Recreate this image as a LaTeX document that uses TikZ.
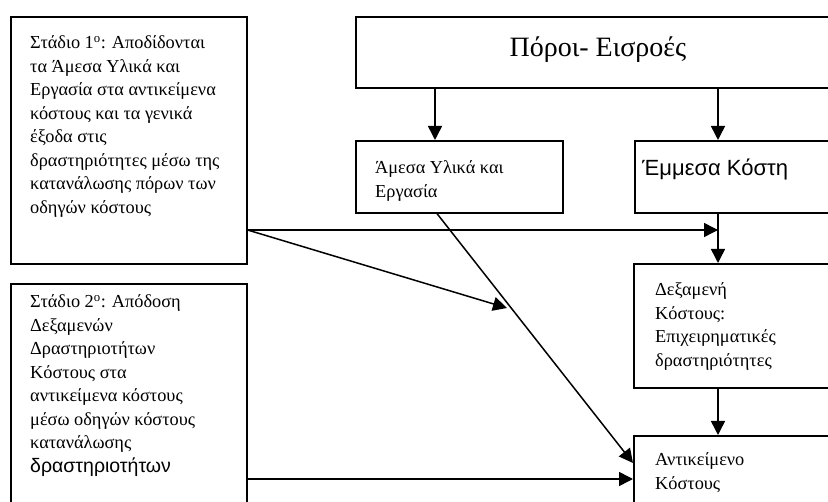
\documentclass[tikz,border=0pt]{standalone}
\usepackage{fontspec}
\setmainfont{Liberation Serif}
\newfontfamily\arialgr{Liberation Sans}
\usetikzlibrary{arrows.meta}

\tikzset{
    box/.style={draw, line width=1.6pt, anchor=north west, inner sep=0pt},
    txt/.style={anchor=north west, inner sep=0pt, align=left, font=\fontsize{18.3}{23.5}\selectfont},
    arr/.style={line width=1.5pt, -{Triangle[length=14pt,width=14pt]}}
}

\begin{document}
\begin{tikzpicture}[x=1pt, y=-1pt]
    \useasboundingbox (0,0) rectangle (828,502);
    \clip (0,0) rectangle (828,502);

% stages
    \node[box, minimum width=236pt, minimum height=247pt] (stage1) at (10,16) {};
    \node[box, minimum width=236pt, minimum height=250pt] (stage2) at (10,283) {};
    \node[txt] (stage1txt) at (30,32) {\strut Στάδιο 1\textsuperscript{ο}: Αποδίδονται\\
        τα Άμεσα Υλικά και\\
        Εργασία στα αντικείμενα\\
        κόστους και τα γενικά\\
        έξοδα στις\\
        δραστηριότητες μέσω της\\
        κατανάλωσης πόρων των\\
        οδηγών κόστους};
    \node[txt] (stage2txt) at (30,291) {\strut Στάδιο 2\textsuperscript{ο}: Απόδοση\\
        Δεξαμενών\\
        Δραστηριοτήτων\\
        Κόστους στα\\
        αντικείμενα κόστους\\
        μέσω οδηγών κόστους\\
        κατανάλωσης\\
        {\arialgr\fontsize{19.5}{23.5}\selectfont δραστηριοτήτων}};

% resources
    \node[box, minimum width=490pt, minimum height=71pt] (poroi) at (355,16) {};
    \node[anchor=base, inner sep=0pt, font=\fontsize{28}{32}\selectfont] (poroitxt) at (598,57) {Πόροι- Εισροές};

    \node[box, minimum width=207pt, minimum height=72pt] (amesa) at (355,140) {};
    \node[txt] (amesatxt) at (375,157) {\strut Άμεσα Υλικά και\\ Εργασία};

    \node[box, minimum width=220pt, minimum height=72pt] (emmesa) at (634,140) {};
    \node[anchor=base west, inner sep=0pt, font=\arialgr\fontsize{22}{26}\selectfont] (emmesatxt) at (642,176) {Έμμεσα Κόστη};

% pool and object
    \node[box, minimum width=220pt, minimum height=124pt] (dexam) at (633,263) {};
    \node[txt] (dexamtxt) at (655,279) {\strut Δεξαμενή\\ Κόστους:\\ Επιχειρηματικές\\ δραστηριότητες};

    \node[box, minimum width=220pt, minimum height=100pt] (antik) at (633,435) {};
    \node[txt] (antiktxt) at (655,449) {\strut Αντικείμενο\\ Κόστους};

% connectors
    \coordinate (join) at (718,230);
    \coordinate (mid) at (507,308);

    \draw[arr] (poroi.south -| 435,0) -- (amesa.north -| 435,0);
    \draw[arr] (poroi.south -| 718,0) -- (emmesa.north -| 718,0);
    \draw[arr] (emmesa.south -| 718,0) -- (dexam.north -| 718,0);
    \draw[arr] (dexam.south -| 718,0) -- (antik.north -| 718,0);

    \draw[arr] (stage1.east |- join) -- (join);
    \draw[arr] (stage1.east |- join) -- (mid);
    \draw[arr] (amesa.south -| 437,0) -- (antik.west |- 0,463);
    \draw[arr] (stage2.east |- 0,479) -- (antik.west |- 0,479);

\end{tikzpicture}
\end{document}
